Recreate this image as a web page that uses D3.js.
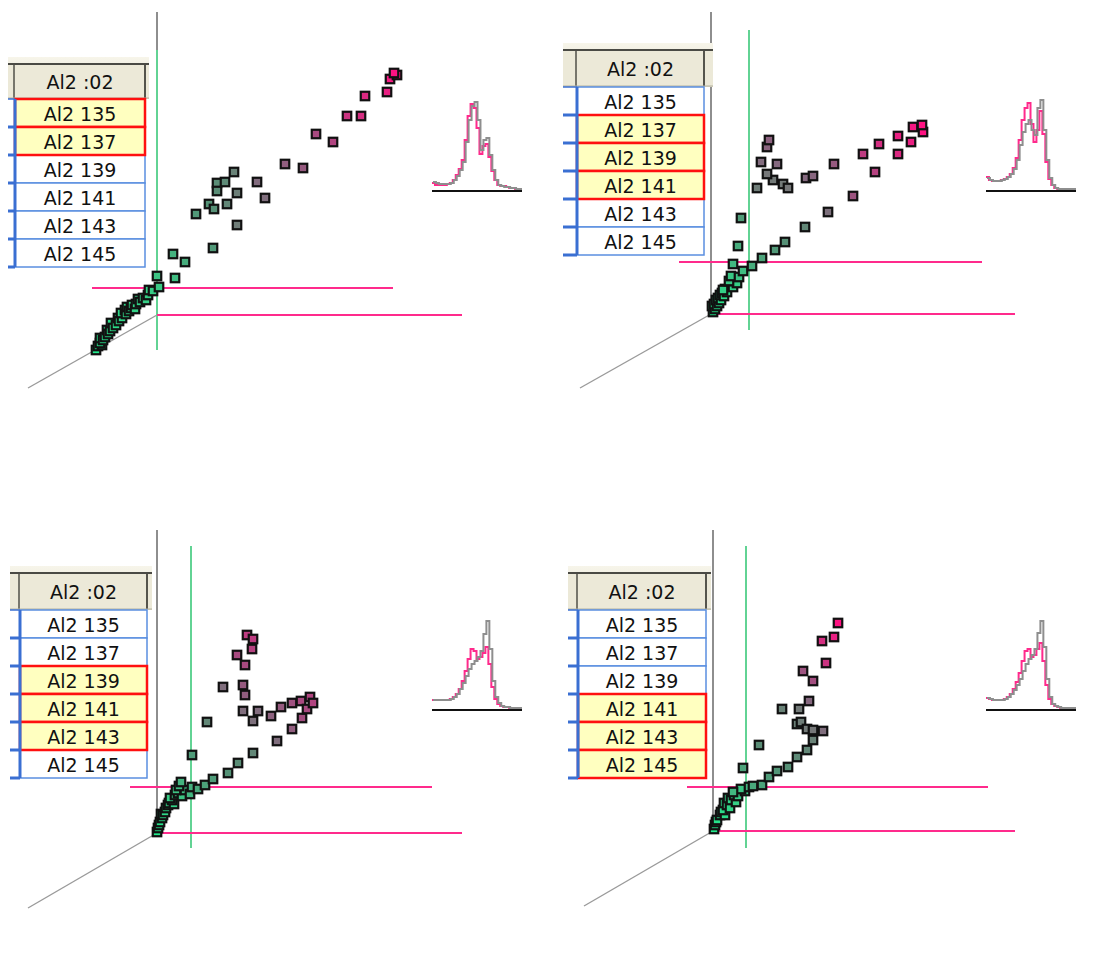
<!DOCTYPE html>
<html><head><meta charset="utf-8">
<script src="https://cdn.jsdelivr.net/npm/d3@7"></script>
<style>html,body{margin:0;padding:0;background:#fff;} svg{display:block}</style>
</head><body>
<svg id="chart" width="1098" height="955"></svg>
<script>
// ---- data -------------------------------------------------------------
const headerLabel = "Al2 :02";
const rowLabels = ["Al2 135", "Al2 137", "Al2 139", "Al2 141", "Al2 143", "Al2 145"];
const selectedA = ["Al2 135", "Al2 137"];
const selectedB = ["Al2 137", "Al2 139", "Al2 141"];
const selectedC = ["Al2 139", "Al2 141", "Al2 143"];
const selectedD = ["Al2 141", "Al2 143", "Al2 145"];

// scatter points: [x, y, intensity]
const pointsA = [
  [-61,-35,0],[-59,-31,0.01],[-55,-30,0.01],[-57,-28,0.02],[-57,-23,0.02],[-54,-25,0.03],[-52,-22,0.04],[-50,-15,0.05],
  [-49,-19,0.05],[-47,-16,0.06],[-46,-8,0.06],[-44,-13,0.07],[-41,-10,0.08],[-39,-3,0.09],[-38,-6,0.09],[-35,-3,0.1],
  [-36,2,0.1],[-32,5,0.1],[-31,1,0.11],[-30,8,0.11],[-28,4,0.12],[-26,7,0.12],[-25,10,0.12],[-22,6,0.13],[-21,11,0.13],
  [-19,16,0.13],[-17,13,0.14],[-14,17,0.14],[-11,15,0.15],[-9,20,0.15],[-8,25,0.15],[-4,24,0.16],[2,28,0.18],[0,39,0.2],
  [18,37,0.22],[16,61,0.25],[28,53,0.27],
  [56,67,0.33],[39,101,0.33],[52,111,0.35],[57,106,0.36],[60,132,0.38],[60,124,0.38],[68,133,0.4],
  [70,111,0.42],[77,143,0.45],[80,122,0.47],[80,90,0.48],[108,117,0.6],[100,133,0.62],[128,151,0.7],
  [146,147,0.72],[159,181,0.8],[176,173,0.82],[190,199,0.88],[204,199,0.9],[208,219,0.92],[230,223,0.95],
  [233,236,0.98],[240,240,1],[237,242,1]
];
const pointsB = [
  [2,2,0],[1,8,0.01],[4,5,0.02],[3,10,0.03],[6,8,0.03],[5,14,0.04],[8,11,0.05],[7,16,0.05],[10,14,0.06],[9,19,0.07],
  [11,21,0.07],[13,18,0.08],[14,25,0.09],[16,22,0.1],[19,28,0.11],[22,27,0.12],[24,33,0.13],[12,24,0.14],[26,31,0.15],
  [18,33,0.17],[20,38,0.18],[28,37,0.2],[32,43,0.22],
  [22,50,0.23],[27,68,0.27],[41,48,0.27],[51,56,0.3],[30,96,0.32],[64,64,0.33],[74,72,0.36],[94,87,0.42],
  [46,126,0.48],[62,134,0.5],[72,130,0.5],[56,140,0.52],[77,126,0.52],[117,102,0.58],[50,152,0.62],
  [66,150,0.64],[95,136,0.64],[102,138,0.66],[56,167,0.67],[58,174,0.68],[123,150,0.72],[142,118,0.75],
  [164,142,0.83],[152,160,0.85],[168,170,0.9],[187,160,0.92],[187,178,0.95],[200,172,0.95],[202,187,0.98],
  [212,182,1],[211,189,1]
];
const pointsC = [
  [0,1,0],[1,5,0.02],[2,8,0.03],[3,11,0.04],[5,15,0.06],[4,19,0.06],[6,18,0.08],[8,21,0.1],[9,25,0.09],[11,28,0.12],
  [12,30,0.11],[17,29,0.13],[15,33,0.15],[13,35,0.16],[18,38,0.18],[21,40,0.19],[25,37,0.2],[19,43,0.21],[28,43,0.22],
  [22,47,0.22],[33,39,0.24],[24,51,0.25],[35,46,0.26],
  [41,44,0.28],[48,48,0.3],[56,54,0.32],[35,78,0.32],[71,60,0.35],[81,70,0.38],[96,80,0.42],[50,111,0.42],
  [96,112,0.58],[120,92,0.6],[86,122,0.6],[66,146,0.6],[101,122,0.62],[114,117,0.68],[88,138,0.7],
  [135,104,0.7],[86,148,0.72],[124,126,0.72],[135,130,0.76],[145,115,0.78],[144,132,0.8],[150,124,0.8],
  [80,178,0.8],[88,168,0.8],[153,136,0.82],[156,130,0.82],[95,184,0.83],[90,198,0.85],[96,194,0.85]
];
const pointsD = [
  [1,2,0],[2,6,0.02],[3,9,0.03],[4,11,0.04],[7,16,0.06],[8,19,0.06],[12,16,0.07],[10,21,0.08],[11,28,0.09],[14,26,0.1],
  [17,23,0.11],[15,33,0.12],[18,31,0.13],[23,29,0.15],[21,36,0.16],[25,35,0.17],[32,40,0.2],[28,42,0.2],[20,39,0.24],
  [36,44,0.25],[40,45,0.28],[49,46,0.3],[30,63,0.3],
  [56,54,0.32],[64,60,0.34],[75,64,0.36],[46,86,0.38],[84,74,0.4],[94,81,0.42],[100,91,0.45],[69,122,0.45],
  [84,107,0.46],[88,109,0.48],[86,122,0.5],[94,102,0.5],[100,101,0.52],[110,100,0.6],[96,130,0.65],
  [90,160,0.75],[100,150,0.78],[113,168,0.88],[109,190,0.9],[121,194,0.95],[125,208,1]
];

// guide thresholds: [vertical green x, upper pink y]
const guidesA = [0, 27];
const guidesB = [38, 52];
const guidesC = [34, 46];
const guidesD = [33, 44];

// small distribution insets (30 bins each)
const histGrayA = [8,7,6,6,6,6,7,10,14,20,28,48,70,84,88,70,40,50,52,35,20,10,5,4,3,3,2,2,1,1];
const histPinkA = [7,5,5,5,5,6,7,10,15,21,30,50,74,86,82,62,36,44,46,33,19,10,5,4,4,3,2,2,1,1];
const histGrayB = [12,10,9,9,9,10,11,13,16,21,30,45,58,66,70,60,55,82,90,60,30,12,5,2,1,1,1,1,1,1];
const histPinkB = [13,10,9,9,9,10,11,13,16,22,32,50,70,82,87,66,48,60,79,56,28,11,5,2,1,1,1,1,1,1];
const histGrayC = [9,9,9,9,9,9,10,12,15,20,26,33,40,45,48,52,58,75,88,60,28,12,6,3,2,2,1,1,1,1];
const histPinkC = [9,9,9,9,9,9,10,12,15,20,28,38,50,60,58,50,52,56,62,45,22,10,5,3,2,2,1,1,1,1];
const histGrayD = [11,10,9,9,9,9,10,12,15,19,24,30,38,45,50,54,60,76,88,62,30,12,5,3,2,1,1,1,1,1];
const histPinkD = [11,10,9,9,9,9,10,12,15,20,27,36,48,58,60,52,54,60,66,48,24,10,5,3,2,1,1,1,1,1];

// ---- layout -----------------------------------------------------------
const panels = [
  { pts: pointsA, sel: selectedA, guides: guidesA, hg: histGrayA, hp: histPinkA,
    ox: 157, oy: 315, axisTop: 12, gTop: 50, gBot: 350, upX: [-65, 236], loX: [0, 305], diag: [-129, -73],
    tbl: { bandTop: 57, left: 8, cellL: 15, cellR: 145, bandR: 149, rowTop: 99 },
    hist: { x0: 433, x1: 522, base: 191 } },
  { pts: pointsB, sel: selectedB, guides: guidesB, hg: histGrayB, hp: histPinkB,
    ox: 711, oy: 314, axisTop: 12, gTop: 30, gBot: 330, upX: [-32, 271], loX: [0, 304], diag: [-131, -74],
    tbl: { bandTop: 43, left: 563, cellL: 577, cellR: 704, bandR: 713, rowTop: 87 },
    hist: { x0: 987, x1: 1076, base: 191 } },
  { pts: pointsC, sel: selectedC, guides: guidesC, hg: histGrayC, hp: histPinkC,
    ox: 157, oy: 833, axisTop: 530, gTop: 546, gBot: 848, upX: [-27, 275], loX: [0, 305], diag: [-129, -75],
    tbl: { bandTop: 566, left: 10, cellL: 20, cellR: 147, bandR: 152, rowTop: 610 },
    hist: { x0: 433, x1: 522, base: 710 } },
  { pts: pointsD, sel: selectedD, guides: guidesD, hg: histGrayD, hp: histPinkD,
    ox: 713, oy: 831, axisTop: 530, gTop: 546, gBot: 848, upX: [-26, 275], loX: [0, 302], diag: [-129, -75],
    tbl: { bandTop: 566, left: 568, cellL: 578, cellR: 706, bandR: 711, rowTop: 610 },
    hist: { x0: 987, x1: 1076, base: 710 } }
];

const ROW_H = 28;
const svg = d3.select("#chart");
const color = d3.scaleLinear()
  .domain([0, 0.2, 0.35, 0.5, 0.65, 0.8, 1])
  .range(["#22ea8c", "#3cc483", "#549276", "#737a78", "#86687f", "#a84a80", "#ff1282"])
  .interpolate(d3.interpolateRgb);

const defs = svg.append("defs");
const grad = defs.append("linearGradient").attr("id", "band").attr("x1", 0).attr("x2", 0).attr("y1", 0).attr("y2", 1);
grad.append("stop").attr("offset", "0%").attr("stop-color", "#f7f5ea");
grad.append("stop").attr("offset", "100%").attr("stop-color", "#dedbc8");

panels.forEach(p => {
  const g = svg.append("g");
  const x = d3.scaleLinear().domain([0, 100]).range([p.ox, p.ox + 100]);
  const y = d3.scaleLinear().domain([0, 100]).range([p.oy, p.oy - 100]);

  // axes
  g.append("line").attr("x1", x(0)).attr("x2", x(0)).attr("y1", p.axisTop).attr("y2", y(0))
    .attr("stroke", "#8e8e8e").attr("stroke-width", 2);
  g.append("line").attr("x1", x(0)).attr("y1", y(0)).attr("x2", x(p.diag[0])).attr("y2", y(p.diag[1]))
    .attr("stroke", "#9a9a9a").attr("stroke-width", 1.4);

  // guide lines
  g.append("line").attr("x1", x(p.guides[0])).attr("x2", x(p.guides[0])).attr("y1", p.gTop).attr("y2", p.gBot)
    .attr("stroke", "#62d394").attr("stroke-width", 2);
  g.append("line").attr("x1", x(p.upX[0])).attr("x2", x(p.upX[1])).attr("y1", y(p.guides[1])).attr("y2", y(p.guides[1]))
    .attr("stroke", "#ff2a8c").attr("stroke-width", 2);
  g.append("line").attr("x1", x(p.loX[0])).attr("x2", x(p.loX[1])).attr("y1", y(0)).attr("y2", y(0))
    .attr("stroke", "#ff2a8c").attr("stroke-width", 2);

  // points
  const s = 8.5;
  g.append("g").selectAll("rect").data(p.pts).join("rect")
    .attr("x", d => x(d[0]) - s / 2).attr("y", d => y(d[1]) - s / 2)
    .attr("width", s).attr("height", s)
    .attr("fill", d => color(d[2]))
    .attr("stroke", "#111").attr("stroke-width", 2.2);

  // table
  const t = p.tbl;
  const tg = svg.append("g");
  const hdrTop = t.bandTop + 8;
  tg.append("rect").attr("x", t.left).attr("y", t.bandTop).attr("width", t.bandR - t.left).attr("height", t.rowTop - t.bandTop)
    .attr("fill", "url(#band)");
  tg.append("rect").attr("x", t.left).attr("y", hdrTop).attr("width", t.bandR - t.left).attr("height", t.rowTop - hdrTop - 1)
    .attr("fill", "#ece9d8");
  tg.append("line").attr("x1", t.left).attr("x2", t.bandR).attr("y1", hdrTop - 1).attr("y2", hdrTop - 1)
    .attr("stroke", "#4a4a44").attr("stroke-width", 2);
  tg.append("line").attr("x1", t.cellL - 1).attr("x2", t.cellL - 1).attr("y1", hdrTop).attr("y2", t.rowTop - 1)
    .attr("stroke", "#77766c").attr("stroke-width", 2);
  tg.append("line").attr("x1", t.cellR).attr("x2", t.cellR).attr("y1", hdrTop).attr("y2", t.rowTop - 1)
    .attr("stroke", "#55544c").attr("stroke-width", 2);
  tg.append("line").attr("x1", t.left).attr("x2", t.bandR).attr("y1", t.rowTop - 1).attr("y2", t.rowTop - 1)
    .attr("stroke", "#b5b2a0").attr("stroke-width", 1);
  tg.append("text").attr("x", (t.cellL + t.cellR) / 2).attr("y", (hdrTop + t.rowTop) / 2)
    .attr("text-anchor", "middle").attr("dominant-baseline", "central")
    .attr("font-family", "DejaVu Sans, Verdana, sans-serif").attr("font-size", 19).attr("fill", "#111")
    .text(headerLabel);

  const rowY = d3.scaleBand().domain(rowLabels).range([t.rowTop, t.rowTop + ROW_H * rowLabels.length]);
  // unselected rows first, then selected on top
  const ordered = rowLabels.filter(r => !p.sel.includes(r)).concat(rowLabels.filter(r => p.sel.includes(r)));
  tg.append("g").selectAll("rect").data(ordered).join("rect")
    .attr("x", t.cellL).attr("y", d => rowY(d)).attr("width", t.cellR - t.cellL).attr("height", rowY.bandwidth())
    .attr("fill", d => p.sel.includes(d) ? "#ffffc0" : "#ffffff")
    .attr("stroke", d => p.sel.includes(d) ? "#ff1010" : "#5a8ee0")
    .attr("stroke-width", d => p.sel.includes(d) ? 2.5 : 1.5);
  // left bar and row ticks
  tg.append("line").attr("x1", t.cellL).attr("x2", t.cellL).attr("y1", t.rowTop).attr("y2", t.rowTop + ROW_H * 6)
    .attr("stroke", "#3a6fd2").attr("stroke-width", 3);
  tg.append("g").selectAll("line").data(d3.range(7)).join("line")
    .attr("x1", t.left).attr("x2", t.cellL).attr("y1", i => t.rowTop + i * ROW_H).attr("y2", i => t.rowTop + i * ROW_H)
    .attr("stroke", "#3a6fd2").attr("stroke-width", i => (i === 0 ? 1.5 : 3));
  tg.append("g").selectAll("text").data(rowLabels).join("text")
    .attr("x", (t.cellL + t.cellR) / 2).attr("y", d => rowY(d) + rowY.bandwidth() / 2 + 1)
    .attr("text-anchor", "middle").attr("dominant-baseline", "central")
    .attr("font-family", "DejaVu Sans, Verdana, sans-serif").attr("font-size", 19).attr("fill", "#111")
    .text(d => d);

  // distribution inset
  const h = p.hist;
  const hx = d3.scaleLinear().domain([0, p.hg.length]).range([h.x0, h.x1]);
  const hy = d3.scaleLinear().domain([0, 90]).range([h.base - 1, h.base - 91]);
  const step = d3.line().x(d => hx(d[0])).y(d => hy(d[1])).curve(d3.curveStepAfter);
  const toPts = arr => arr.map((v, i) => [i, v]).concat([[arr.length, arr[arr.length - 1]]]);
  const hg = svg.append("g");
  hg.append("path").attr("d", step(toPts(p.hp))).attr("fill", "none")
    .attr("stroke", "#ff2a8c").attr("stroke-width", 2).attr("transform", "translate(-1,0)");
  hg.append("path").attr("d", step(toPts(p.hg))).attr("fill", "none")
    .attr("stroke", "#8e8e8e").attr("stroke-width", 2);
  hg.append("line").attr("x1", h.x0 - 1).attr("x2", h.x1).attr("y1", h.base).attr("y2", h.base)
    .attr("stroke", "#111").attr("stroke-width", 2);
});
</script>
</body></html>
